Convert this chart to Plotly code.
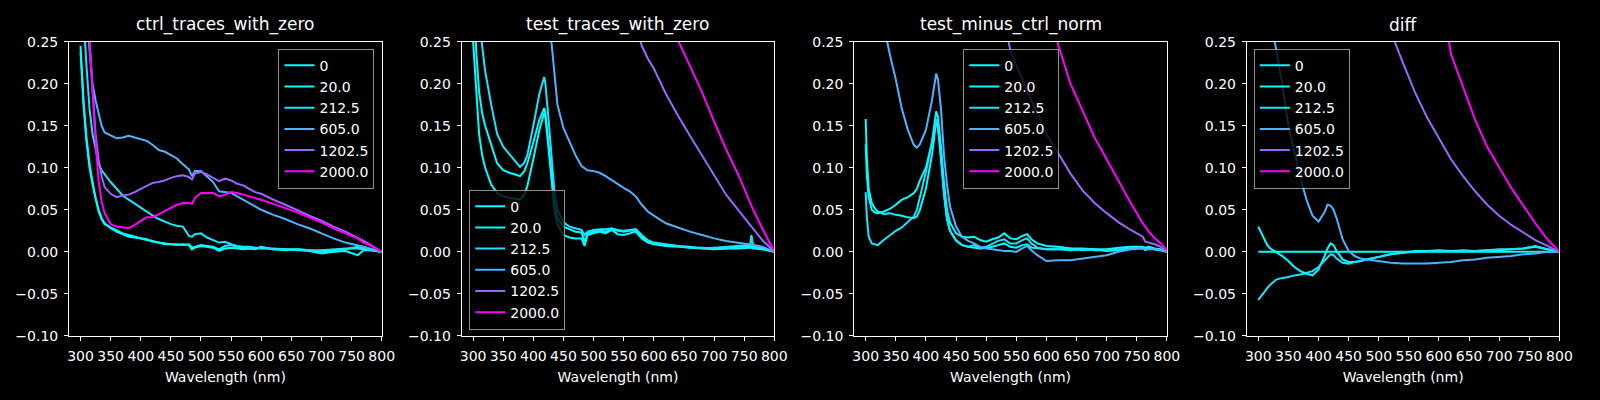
import plotly.graph_objects as go

# legend labels and the "cool" colormap colours for each trace
labels = ["0", "20.0", "212.5", "605.0", "1202.5", "2000.0"]
colors = ["#00ffff", "#02fdff", "#1be4ff", "#4db2ff", "#9966ff", "#ff00ff"]
titles = ["ctrl_traces_with_zero", "test_traces_with_zero", "test_minus_ctrl_norm", "diff"]

# ---- panel 1: ctrl_traces_with_zero ----
wl_ctrl = [300, 305, 310, 315, 320, 325, 330, 335, 340,
           350, 360, 370, 380, 390, 400, 410, 420, 430, 440, 450, 460, 470, 480,
           485,
           490, 500, 510, 520, 530, 540, 550, 560, 570, 580, 590, 600,
           620, 640, 660, 680, 700, 720, 740, 760,
           770, 780, 790, 800]
ctrl_0 = [.245, .18, .135, .105, .083, .064, .05, .04, .034,
          .028, .024, .021, .018, .017, .016, .015, .012, .011, .01, .009, .008, .009, .008,
          .003,
          .005, .007, .006, .005, .001, .004, .005, .004, .003, .004, .003, .005,
          .003, .003, .002, .001, -.002, .0, .001, -.004,
          .002, .002, .001, 0]
ctrl_20 = [.238, .175, .13, .1, .08, .062, .048, .039, .033,
           .029, .025, .022, .02, .018, .016, .014, .013, .011, .009, .009, .009, .008, .009,
           .005,
           .006, .008, .007, .006, .003, .007, .008, .006, .005, .004, .004, .006,
           .003, .002, .003, .002, .0, .002, .003, .006,
           .004, .003, .002, 0]
ctrl_212 = [.36, .28, .22, .17, .14, .12, .105, .097, .092,
            .083, .075, .067, .062, .057, .052, .047, .043, .039, .036, .033, .031, .03, .019,
            .018,
            .021, .022, .017, .014, .011, .012, .009, .007, .006, .006, .005, .004,
            .004, .003, .003, .002, .002, .003, .004, .004,
            .003, .002, .001, 0]
ctrl_605 = [.45, .33, .28, .235, .2, .18, .165, .15, .142,
            .138, .135, .136, .138, .136, .134, .132, .127, .121, .119, .115, .111, .104, .098,
            .09,
            .096, .096, .089, .083, .072, .071, .07, .066, .062, .058, .054, .05,
            .044, .039, .033, .028, .022, .016, .011, .008,
            .006, .004, .002, 0]
ctrl_1202 = [.6, .45, .33, .25, .19, .14, .11, .09, .077,
             .069, .065, .067, .068, .071, .075, .079, .082, .083, .085, .088, .09, .091, .089,
             .086,
             .093, .095, .092, .088, .084, .087, .085, .081, .079, .075, .071, .069,
             .062, .056, .049, .043, .037, .03, .024, .017,
             .013, .009, .005, 0]
ctrl_2000 = [.6, .45, .33, .25, .19, .13, .085, .06, .046,
             .033, .03, .029, .028, .032, .037, .041, .041, .045, .049, .052, .056, .058, .058,
             .057,
             .064, .07, .07, .07, .066, .068, .071, .07, .068, .066, .064, .062,
             .057, .052, .047, .041, .035, .028, .022, .016,
             .011, .008, .004, 0]

# ---- panel 2: test_traces_with_zero ----
wl_test = [300, 305, 310, 315, 320,
           330, 340, 350, 360, 370,
           378, 385, 390, 400, 410,
           418, 420, 425, 430, 435,
           440, 450, 460, 470, 480,
           485, 490, 500, 510, 520,
           530, 540, 550, 560, 570,
           580, 590, 600, 620, 640,
           660, 680, 700, 720, 740,
           760, 762, 765, 780, 800]
test_0 = [.25, .2, .14, .115, .1,
          .08, .07, .066, .064, .063,
          .062, .068, .078, .11, .145,
          .165, .16, .125, .085, .05,
          .033, .02, .017, .016, .016,
          .007, .02, .022, .024, .022,
          .026, .021, .02, .022, .024,
          .016, .011, .009, .007, .006,
          .005, .004, .003, .004, .004,
          .005, .005, .004, .003, 0]
test_20 = [.4, .24, .19, .165, .15,
           .128, .105, .097, .094, .092,
           .09, .096, .105, .13, .157,
           .171, .165, .13, .09, .058,
           .04, .03, .027, .024, .023,
           .012, .022, .024, .026, .024,
           .027, .025, .024, .025, .026,
           .018, .012, .01, .008, .007,
           .005, .005, .004, .004, .006,
           .007, .006, .005, .004, 0]
test_212 = [.6, .45, .3, .245, .215,
            .175, .14, .125, .116, .108,
            .101, .106, .115, .15, .188,
            .208, .2, .16, .11, .072,
            .05, .035, .03, .028, .026,
            .02, .024, .026, .027, .027,
            .028, .026, .025, .026, .027,
            .02, .014, .011, .009, .007,
            .006, .004, .005, .006, .007,
            .008, .02, .006, .005, 0]
test_605 = [1.2, 1.1, 1.0, .95, .9,
            .8, .72, .65, .6, .55,
            .5, .47, .45, .4, .36,
            .33, .32, .29, .25, .21,
            .175, .147, .13, .115, .102,
            .099, .097, .096, .094, .09,
            .085, .08, .076, .072, .066,
            .056, .048, .043, .034, .029,
            .024, .02, .016, .013, .011,
            .009, .009, .008, .006, 0]
test_1202 = [2.5, 2.4, 2.3, 2.2, 2.1,
             1.9, 1.7, 1.55, 1.4, 1.25,
             1.15, 1.08, 1.03, .93, .84,
             .78, .76, .73, .7, .67,
             .66, .62, .58, .55, .52,
             .51, .5, .46, .43, .4,
             .37, .34, .315, .29, .268,
             .245, .23, .218, .188, .162,
             .138, .115, .092, .068, .05,
             .032, .03, .028, .014, 0]
test_2000 = [1.8, 1.7, 1.62, 1.55, 1.5,
             1.4, 1.3, 1.22, 1.16, 1.1,
             1.05, 1.0, .98, .94, .9,
             .88, .87, .84, .82, .8,
             .78, .74, .7, .67, .64,
             .62, .6, .57, .55, .52,
             .5, .47, .44, .41, .385,
             .36, .34, .32, .285, .252,
             .22, .19, .155, .122, .092,
             .058, .055, .05, .028, 0]

# ---- panel 3: test_minus_ctrl_norm ----
wl_norm = [300, 302, 305, 310, 315,
           320, 330, 340, 350, 360,
           370, 380, 385, 390, 400,
           410, 417, 420, 425, 430,
           435, 440, 450, 460, 470,
           480, 490, 500, 510, 520,
           530, 540, 550, 560, 568,
           575, 585, 600, 620, 640,
           660, 680, 700, 720, 740,
           760, 764, 770, 780, 790,
           800]
norm_0 = [.158, .11, .075, .058, .052,
          .048, .045, .046, .044, .043,
          .041, .04, .042, .05, .075,
          .115, .155, .148, .11, .068,
          .038, .025, .013, .008, .006,
          .005, .004, .005, .006, .008,
          .01, .006, .005, .008, .009,
          .005, .004, .003, .003, .004,
          .002, .003, .001, .002, .004,
          .005, .002, .004, .003, .002,
          0]
norm_20 = [.128, .09, .065, .05, .047,
           .046, .048, .051, .056, .062,
           .065, .07, .075, .085, .1,
           .13, .167, .16, .125, .082,
           .05, .035, .022, .018, .017,
           .018, .014, .012, .015, .017,
           .022, .016, .015, .019, .021,
           .015, .01, .007, .006, .004,
           .004, .003, .003, .005, .006,
           .006, .005, .006, .004, .003,
           0]
norm_212 = [.071, .04, .018, .01, .009,
            .008, .014, .02, .025, .029,
            .035, .042, .05, .065, .095,
            .13, .158, .15, .115, .07,
            .04, .025, .014, .008, .006,
            .008, .004, .006, .01, .013,
            .015, .01, .01, .014, .016,
            .01, .005, .003, .003, .002,
            .003, .002, .002, .003, .004,
            .005, .003, .004, .003, .002,
            0]
norm_605 = [.5, .48, .44, .4, .36,
            .32, .27, .235, .205, .17,
            .145, .127, .124, .128, .145,
            .18, .212, .205, .17, .115,
            .08, .054, .03, .018, .013,
            .01, .006, .004, .003, .002,
            .001, .001, .0, .004, .007,
            .002, -.004, -.011, -.01, -.01,
            -.008, -.006, -.004, .0, .003,
            .004, .003, .003, .003, .002,
            0]
norm_1202 = [3, 2.9, 2.8, 2.7, 2.6,
             2.5, 2.3, 2.1, 1.9, 1.75,
             1.6, 1.45, 1.4, 1.33, 1.2,
             1.08, 1.0, .97, .92, .87,
             .82, .78, .7, .62, .55,
             .49, .43, .38, .34, .3,
             .275, .24, .222, .205, .193,
             .18, .165, .14, .117, .093,
             .073, .058, .046, .035, .026,
             .018, .012, .011, .009, .006,
             0]
norm_2000 = [5, 4.8, 4.6, 4.4, 4.2,
             4.0, 3.7, 3.4, 3.1, 2.85,
             2.6, 2.4, 2.3, 2.2, 2.0,
             1.85, 1.75, 1.72, 1.65, 1.58,
             1.5, 1.45, 1.35, 1.25, 1.15,
             1.06, .98, .9, .82, .75,
             .68, .62, .56, .5, .46,
             .42, .37, .31, .245, .2,
             .167, .136, .11, .084, .058,
             .034, .03, .024, .016, .01,
             .002]

# ---- panel 4: diff ----
wl_flat = [300, 800]
diff_0 = [0.0, 0.0]
wl_diff = [300, 305, 310, 315, 320,
           330, 340, 350, 360, 370,
           380, 390, 400, 410, 415,
           420, 425, 430, 440, 450,
           460, 470, 480, 500, 520,
           540, 560, 580, 600, 620,
           640, 660, 680, 700, 720,
           740, 760, 780, 800]
diff_20 = [.03, .022, .015, .008, .004,
           .0, -.005, -.011, -.018, -.023,
           -.026, -.028, -.021, -.005, .004,
           .01, .008, .001, -.009, -.012,
           -.012, -.011, -.009, -.006, -.003,
           -.001, .001, .001, .002, .001,
           .001, .001, .002, .002, .003,
           .004, .006, .003, 0]
diff_212 = [-.057, -.053, -.048, -.043, -.039,
            -.033, -.031, -.03, -.028, -.027,
            -.025, -.023, -.018, -.01, -.006,
            -.003, -.004, -.008, -.013, -.014,
            -.012, -.011, -.009, -.006, -.003,
            -.001, .0, .001, .001, .001,
            .002, .001, .002, .003, .003,
            .004, .007, .003, 0]
diff_605 = [.5, .42, .36, .31, .28,
            .24, .198, .15, .118, .088,
            .062, .043, .036, .047, .056,
            .055, .05, .04, .015, .001,
            -.005, -.008, -.009, -.011, -.013,
            -.014, -.014, -.014, -.013, -.012,
            -.01, -.009, -.007, -.006, -.005,
            -.003, -.002, .0, 0]
diff_1202 = [3, 2.9, 2.8, 2.7, 2.6,
             2.4, 2.2, 2.0, 1.85, 1.7,
             1.55, 1.42, 1.3, 1.18, 1.12,
             1.07, 1.02, .97, .88, .8,
             .5, .36, .34, .3, .262,
             .225, .19, .16, .135, .11,
             .09, .072, .056, .043, .032,
             .023, .014, .007, 0]
diff_2000 = [5, 4.8, 4.6, 4.4, 4.2,
             3.9, 3.6, 3.3, 3.0, 2.8,
             2.6, 2.4, 2.2, 2.0, 1.95,
             1.9, 1.85, 1.8, 1.7, 1.6,
             1.5, 1.4, 1.3, 1.1, .9,
             .72, .55, .42, .32, .235,
             .195, .157, .125, .1, .076,
             .055, .034, .015, 0]

panels = [
    [(wl_ctrl, ctrl_0), (wl_ctrl, ctrl_20), (wl_ctrl, ctrl_212),
     (wl_ctrl, ctrl_605), (wl_ctrl, ctrl_1202), (wl_ctrl, ctrl_2000)],
    [(wl_test, test_0), (wl_test, test_20), (wl_test, test_212),
     (wl_test, test_605), (wl_test, test_1202), (wl_test, test_2000)],
    [(wl_norm, norm_0), (wl_norm, norm_20), (wl_norm, norm_212),
     (wl_norm, norm_605), (wl_norm, norm_1202), (wl_norm, norm_2000)],
    [(wl_flat, diff_0), (wl_diff, diff_20), (wl_diff, diff_212),
     (wl_diff, diff_605), (wl_diff, diff_1202), (wl_diff, diff_2000)],
]

# legend placement per panel (paper coords): x, y, xanchor, yanchor
legend_pos = [
    (0.235, 0.894, "right", "top"),
    (0.2948, 0.1625, "left", "bottom"),
    (0.6368, 0.894, "center", "top"),
    (0.7898, 0.894, "left", "top"),
]

fig = go.Figure()
W, H = 1600, 400
y_dom = [0.146, 0.9125]

for i, series in enumerate(panels):
    n = "" if i == 0 else str(i + 1)
    leg = "legend" + n
    for lab, col, (wl, ys) in zip(labels, colors, series):
        fig.add_trace(go.Scatter(x=wl, y=ys, mode="lines", name=lab,
                                 line=dict(color=col, width=2),
                                 xaxis="x" + n, yaxis="y" + n, legend=leg))

    left = (67.7 + 396.3 * i) / W
    right = left + 315.6 / W
    axis_style = dict(showgrid=False, zeroline=False, showline=True, mirror=True,
                      linecolor="white", linewidth=1, ticks="outside", ticklen=4,
                      tickcolor="white", tickwidth=1, ticklabelstandoff=3,
                      tickfont=dict(size=14, color="white"))
    fig.update_layout({
        "xaxis" + n: dict(domain=[left, right], range=[281, 800], anchor="y" + n,
                          tickvals=list(range(300, 801, 50)),
                          title=dict(text="Wavelength (nm)", font=dict(size=14, color="white"),
                                     standoff=9),
                          **axis_style),
        "yaxis" + n: dict(domain=y_dom, range=[-0.10, 0.25], anchor="x" + n,
                          tickvals=[-0.10, -0.05, 0.0, 0.05, 0.10, 0.15, 0.20, 0.25],
                          tickformat=".2f", **axis_style),
        leg: dict(x=legend_pos[i][0], y=legend_pos[i][1],
                  xanchor=legend_pos[i][2], yanchor=legend_pos[i][3],
                  bgcolor="rgba(0,0,0,0.8)", bordercolor="rgba(204,204,204,0.7)",
                  borderwidth=1, font=dict(size=14, color="white"),
                  tracegroupgap=0, itemwidth=30),
    })
    fig.add_annotation(text=titles[i], x=(left + right) / 2, y=y_dom[1],
                       xref="paper", yref="paper", xanchor="center", yanchor="bottom",
                       yshift=5, showarrow=False, font=dict(size=17, color="white"))

fig.update_layout(width=W, height=H, margin=dict(l=0, r=0, t=0, b=0),
                  paper_bgcolor="black", plot_bgcolor="black",
                  font=dict(family="DejaVu Sans", color="white"))

# drop the browser's default body margin so the 1600x400 figure fills the window
fig.write_html("out.html", config={"displayModeBar": False},
               post_script="document.body.style.margin = '0';")
